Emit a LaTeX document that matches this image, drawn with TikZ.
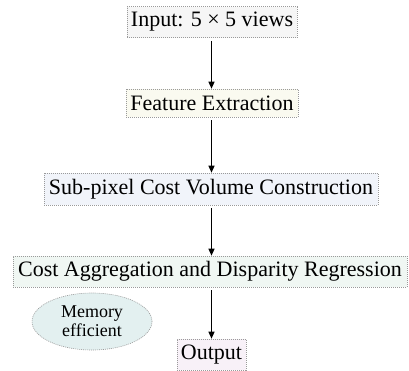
\documentclass[tikz,border=0pt]{standalone}
\usepackage{fontspec}
\setmainfont{Liberation Serif}
\usetikzlibrary{arrows.meta,shapes.geometric}

\definecolor{fillinput}{HTML}{F6F6F6}
\definecolor{fillfeat}{HTML}{FAFAF0}
\definecolor{fillcost}{HTML}{F1F4FA}
\definecolor{fillagg}{HTML}{F0F7F3}
\definecolor{fillmem}{HTML}{E3F0F0}
\definecolor{fillout}{HTML}{F8F1F8}
\definecolor{edgegray}{HTML}{9A9A9A}

\tikzset{
  stagebox/.style={draw=edgegray, line width=0.6pt, dash pattern=on 1pt off 1pt,
    inner sep=0pt, align=center,
    font=\fontsize{22}{24}\selectfont},
  noteoval/.style={ellipse, draw=edgegray, line width=0.6pt, dash pattern=on 1pt off 1pt,
    fill=fillmem, inner sep=0pt, align=center,
    font=\fontsize{18}{19}\selectfont},
  flow/.style={line width=1.2pt, -{Triangle[length=7pt,width=6pt]}, shorten <=3pt}
}

\begin{document}
\begin{tikzpicture}[x=1pt,y=-1pt]
  \useasboundingbox (0,0) rectangle (409,370);

  \node[stagebox, fill=fillinput, minimum width=170, minimum height=31]
    (input) at (212,22) {Input: 5 × 5 views};
  \node[stagebox, fill=fillfeat, minimum width=172, minimum height=28]
    (feat) at (212,103) {Feature Extraction};
  \node[stagebox, fill=fillcost, minimum width=334, minimum height=32]
    (cost) at (211,189) {Sub-pixel Cost Volume Construction};
  \node[stagebox, fill=fillagg, minimum width=394, minimum height=31]
    (agg) at (210,271.5) {Cost Aggregation and Disparity Regression};
  \node[stagebox, fill=fillout, minimum width=69, minimum height=31]
    (out) at (211.5,354.5) {Output};

  \node[noteoval, minimum width=120, minimum height=57]
    (mem) at (92,321.5) {Memory\\efficient};

  \coordinate (axis) at (211.5,0);
  \draw[flow] (input.south -| axis) -- (feat.north -| axis);
  \draw[flow] (feat.south -| axis) -- (cost.north -| axis);
  \draw[flow] (cost.south -| axis) -- (agg.north -| axis);
  \draw[flow] (agg.south -| axis) -- (out.north -| axis);
\end{tikzpicture}
\end{document}
